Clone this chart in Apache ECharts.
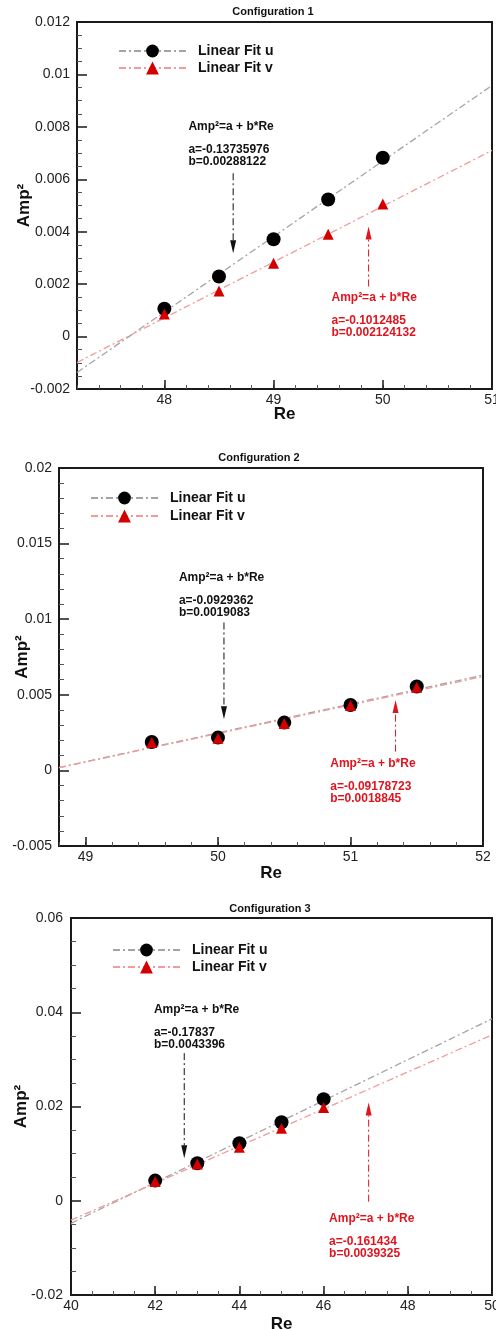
<!DOCTYPE html>
<html><head><meta charset="utf-8">
<script src="https://cdn.jsdelivr.net/npm/echarts@6/dist/echarts.min.js"></script>
<style>html,body{margin:0;padding:0;background:#fff}#c{width:496px;height:1329px}</style>
</head><body><div id="c"></div><script>
// ---------- data ----------
const titles = ['Configuration 1', 'Configuration 2', 'Configuration 3'];
const seriesNames = ['Linear Fit u', 'Linear Fit v'];
const re1 = [48, 48.5, 49, 49.5, 50];
const u1 = [0.00106, 0.00229, 0.00371, 0.00523, 0.00682];
const v1 = [0.00086, 0.00174, 0.0028, 0.0039, 0.00506];
const re2 = [49.5, 50, 50.5, 51, 51.5];
const u2 = [0.00188, 0.00217, 0.00316, 0.00433, 0.00555];
const v2 = [0.00185, 0.00212, 0.0031, 0.0043, 0.0055];
const re3 = [42, 43, 44, 45, 46];
const u3 = [0.00428, 0.00796, 0.01221, 0.01667, 0.02156];
const v3 = [0.0041, 0.0078, 0.01136, 0.0154, 0.01979];
// fitted lines, end points [Re, Amp^2]
const fitU1 = [[47.2, -0.00137], [51, 0.00958]];
const fitV1 = [[47.2, -0.00099], [51, 0.0071]];
const fitU2 = [[48.8, 0.00019], [52, 0.0063]];
const fitV2 = [[48.8, 0.000176], [52, 0.00621]];
const fitU3 = [[40, -0.00479], [50, 0.03861]];
const fitV3 = [[40, -0.00413], [50, 0.03519]];
// axis ranges and tick labels
const xRange = [[47.2, 51], [48.8, 52], [40, 50]];
const xTicks1 = [48, 49, 50, 51];
const xTicks2 = [49, 50, 51, 52];
const xTicks3 = [40, 42, 44, 46, 48, 50];
const xMinorStep = [0.2, 0.2, 0.5];
const yRange = [[-0.002, 0.012], [-0.005, 0.02], [-0.02, 0.06]];
const yStep = [0.002, 0.005, 0.02];
const yMinorSplit = [4, 5, 4];
// annotations: fit coefficients
const coefU = [['-0.13735976', '0.00288122'], ['-0.0929362', '0.0019083'], ['-0.17837', '0.0043396']];
const coefV = [['-0.1012485', '0.002124132'], ['-0.09178723', '0.0018845'], ['-0.161434', '0.0039325']];
// annotation anchors [Re, Amp^2] (text left / first line), arrows [Re, from, to]
const textAnchorU = [[48.22, 0.00802], [49.705, 0.01274], [41.97, 0.04053]];
const textAnchorV = [[49.53, 0.00147], [50.847, 0.00043], [46.13, -0.00386]];
const arrowU = [[48.63, 0.00623, 0.00318], [50.045, 0.00978, 0.00338], [42.69, 0.03133, 0.00903]];
const arrowV = [[49.87, 0.00191, 0.0042], [51.34, 0.00124, 0.00466], [47.07, -0.0002, 0.02085]];

// ---------- layout / style ----------
const FONT = "'Liberation Sans', Arial, sans-serif";
const RED = '#d40000';
const RED_TXT = '#e0141e';
const GRAY_LINE = '#a4a4a4';
const PINK_LINE = '#f39a9a';
const DASHDOT = [7, 3, 2, 3];
const L = [
  {grid: {left: 77, top: 22, width: 415, height: 367}, yGap: 44, xGap: 17, yMargin: 7, legend: {left: 118, top: 44, gap: 3}, title: [273, 12]},
  {grid: {left: 59, top: 468, width: 424, height: 378}, yGap: 28, xGap: 19, yMargin: 7, legend: {left: 90, top: 491, gap: 4}, title: [259, 458]},
  {grid: {left: 71, top: 918, width: 421, height: 377}, yGap: 41, xGap: 21, yMargin: 8, legend: {left: 112, top: 943, gap: 3}, title: [270, 909]}
];
const dataSets = [
  {re: re1, u: u1, v: v1, fitU: fitU1, fitV: fitV1, xt: xTicks1},
  {re: re2, u: u2, v: v2, fitU: fitU2, fitV: fitV2, xt: xTicks2},
  {re: re3, u: u3, v: v3, fitU: fitU3, fitV: fitV3, xt: xTicks3}
];

function near(a, b) { return Math.abs(a - b) < 1e-6; }

const grid = [], xAxis = [], yAxis = [], series = [], legend = [];
dataSets.forEach((d, p) => {
  const lay = L[p];
  grid.push(Object.assign({show: true, borderColor: '#1a1a1a', borderWidth: 2, backgroundColor: '#fff',
    containLabel: false, outerBoundsMode: 'none'}, lay.grid));
  // primary x axis (value): labels + minor ticks at every step
  xAxis.push({
    type: 'value', gridIndex: p, min: xRange[p][0], max: xRange[p][1], interval: xMinorStep[p],
    name: 'Re', nameLocation: 'middle', nameGap: lay.xGap, nameMoveOverlap: false,
    nameTextStyle: {fontFamily: FONT, fontWeight: 'bold', fontSize: 17, color: '#111'},
    axisLine: {show: true, onZero: false, lineStyle: {color: '#1a1a1a', width: 2}},
    axisTick: {show: true, inside: true, length: 4, lineStyle: {color: '#555', width: 1}},
    axisLabel: {show: true, margin: 4, fontFamily: FONT, fontSize: 14, color: '#222',
      showMaxLabel: true, showMinLabel: true,
      formatter: v => (d.xt.some(t => near(t, v)) ? String(Math.round(v)) : '')},
    splitLine: {show: false}
  });
  // secondary x axis (category, same evenly spaced steps): long major ticks at the labelled values
  const steps = [];
  const n = Math.round((xRange[p][1] - xRange[p][0]) / xMinorStep[p]);
  for (let i = 0; i <= n; i++) steps.push((xRange[p][0] + i * xMinorStep[p]).toFixed(2));
  xAxis.push({
    type: 'category', gridIndex: p, data: steps, boundaryGap: false, position: 'bottom',
    axisLine: {show: false, onZero: false}, axisLabel: {show: false}, splitLine: {show: false},
    axisTick: {show: true, inside: true, length: 9, lineStyle: {color: '#1a1a1a', width: 1.5},
      interval: (i, v) => d.xt.some(t => near(t, parseFloat(v)))}
  });
  yAxis.push({
    type: 'value', gridIndex: p, min: yRange[p][0], max: yRange[p][1], interval: yStep[p],
    name: 'Amp²', nameLocation: 'middle', nameGap: lay.yGap, nameRotate: 90, nameMoveOverlap: false,
    nameTextStyle: {fontFamily: FONT, fontWeight: 'bold', fontSize: 17, color: '#111'},
    axisLine: {show: true, onZero: false, lineStyle: {color: '#1a1a1a', width: 2}},
    axisTick: {show: true, inside: true, length: 10, lineStyle: {color: '#1a1a1a', width: 1.5}},
    minorTick: {show: true, splitNumber: yMinorSplit[p], length: 5, lineStyle: {color: '#555', width: 1}},
    axisLabel: {margin: lay.yMargin, fontFamily: FONT, fontSize: 14, color: '#222'},
    splitLine: {show: false}
  });
  const xi = p * 2;
  series.push({
    name: seriesNames[0], type: 'line', xAxisIndex: xi, yAxisIndex: p, data: d.fitU,
    symbol: 'circle', showSymbol: false, silent: true, z: 2,
    itemStyle: {color: '#000'}, lineStyle: {color: GRAY_LINE, width: 1.3, type: DASHDOT}
  });
  series.push({
    name: seriesNames[1], type: 'line', xAxisIndex: xi, yAxisIndex: p, data: d.fitV,
    symbol: 'triangle', showSymbol: false, silent: true, z: 2,
    itemStyle: {color: RED}, lineStyle: {color: PINK_LINE, width: 1.3, type: DASHDOT}
  });
  series.push({
    name: 'u points ' + (p + 1), type: 'scatter', xAxisIndex: xi, yAxisIndex: p,
    data: d.re.map((r, i) => [r, d.u[i]]), symbol: 'circle', symbolSize: 14, z: 3,
    itemStyle: {color: '#000', opacity: 1}
  });
  series.push({
    name: 'v points ' + (p + 1), type: 'scatter', xAxisIndex: xi, yAxisIndex: p,
    data: d.re.map((r, i) => [r, d.v[i]]), symbol: 'triangle', symbolSize: 11, z: 4,
    itemStyle: {color: RED, opacity: 1}
  });
  legend.push({
    orient: 'vertical', left: lay.legend.left, top: lay.legend.top, itemGap: lay.legend.gap,
    itemWidth: 67, itemHeight: 16, selectedMode: false, padding: 0,
    textStyle: {fontFamily: FONT, fontWeight: 'bold', fontSize: 14, color: '#111', padding: [0, 0, 0, 7]},
    data: seriesNames.slice()
  });
});

const chart = echarts.init(document.getElementById('c'), null, {renderer: 'canvas'});
chart.setOption({
  animation: false, backgroundColor: '#fff',
  grid, xAxis, yAxis, series, legend
});

// annotations positioned through the chart's own scales
const graphics = [];
function px(p, pt) { return chart.convertToPixel({xAxisIndex: p * 2, yAxisIndex: p}, pt); }
function textEl(x, y, text, color, size) {
  return {type: 'text', x: x, y: y, z: 20, silent: true,
    style: {text: text, fill: color, font: 'bold ' + size + 'px ' + FONT, textAlign: 'left', textVerticalAlign: 'middle'}};
}
function arrowEls(p, a, color) {
  const s = px(p, [a[0], a[1]]), t = px(p, [a[0], a[2]]);
  const dir = t[1] > s[1] ? 1 : -1;
  const headLen = 13, headW = 3;
  const base = t[1] - dir * headLen;
  return [
    {type: 'line', z: 20, silent: true, shape: {x1: s[0], y1: s[1], x2: t[0], y2: base},
      style: {stroke: color, lineWidth: 1, lineDash: [7, 3, 2, 3]}},
    {type: 'polygon', z: 20, silent: true, shape: {points: [[t[0] - headW, base], [t[0] + headW, base], [t[0], t[1]]]},
      style: {fill: color}}
  ];
}
titles.forEach((t, p) => {
  graphics.push({type: 'text', x: L[p].title[0], y: L[p].title[1], z: 20, silent: true,
    style: {text: t, fill: '#111', font: 'bold 11px ' + FONT, textAlign: 'center', textVerticalAlign: 'middle'}});
  const au = px(p, textAnchorU[p]);
  graphics.push(textEl(au[0], au[1], 'Amp²=a + b*Re', '#111', 12));
  graphics.push(textEl(au[0], au[1] + 23, 'a=' + coefU[p][0], '#111', 12));
  graphics.push(textEl(au[0], au[1] + 35, 'b=' + coefU[p][1], '#111', 12));
  const av = px(p, textAnchorV[p]);
  graphics.push(textEl(av[0], av[1], 'Amp²=a + b*Re', RED_TXT, 12));
  graphics.push(textEl(av[0], av[1] + 23, 'a=' + coefV[p][0], RED_TXT, 12));
  graphics.push(textEl(av[0], av[1] + 35, 'b=' + coefV[p][1], RED_TXT, 12));
  arrowEls(p, arrowU[p], '#111').forEach(e => graphics.push(e));
  arrowEls(p, arrowV[p], RED_TXT).forEach(e => graphics.push(e));
});
chart.setOption({graphic: graphics});
</script></body></html>
